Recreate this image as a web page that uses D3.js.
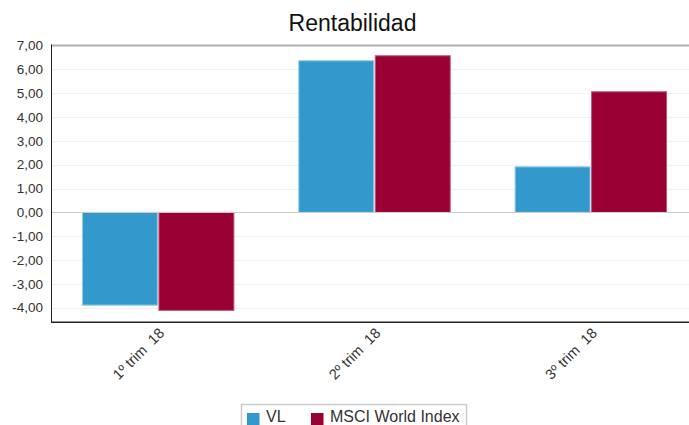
<!DOCTYPE html>
<html>
<head>
<meta charset="utf-8">
<script src="https://cdn.jsdelivr.net/npm/d3@7"></script>
<style>
  html, body { margin: 0; padding: 0; background: #fff; overflow: hidden; }
  text { font-family: "Liberation Sans", Arial, sans-serif; }
</style>
</head>
<body>
<svg id="chart" width="689" height="425"></svg>
<script>
const categories = ["1º trim  18", "2º trim  18", "3º trim  18"];
const seriesNames = ["VL", "MSCI World Index"];
const vlValues = [-3.89, 6.36, 1.91];
const msciValues = [-4.11, 6.57, 5.06];
const yTicks = [-4, -3, -2, -1, 0, 1, 2, 3, 4, 5, 6, 7];
const colors = ["#3399cc", "#990033"];
const strokes = ["#8fcbea", "#c2577b"];

const svg = d3.select("#chart");
const pLeft = 51, pRight = 699, pTop = 45.5, pBottom = 322.3;

const x0 = d3.scaleBand().domain(categories).range([50, pRight]).paddingInner(0.3).paddingOuter(0.15);
const x1 = d3.scaleBand().domain(seriesNames).range([0, x0.bandwidth()]).paddingInner(0.02);
const y = d3.scaleLinear().domain([-4.61, 7]).range([pBottom, pTop]);

// gridlines
svg.append("g").selectAll("line").data(yTicks.filter(d => d !== 0 && d !== 7)).join("line")
  .attr("x1", pLeft).attr("x2", 689)
  .attr("y1", d => Math.round(y(d)) + 0.5).attr("y2", d => Math.round(y(d)) + 0.5)
  .attr("stroke", "#f1f1f1").attr("stroke-width", 1);

// bars
const rows = categories.map((c, i) => ({ cat: c, vals: [vlValues[i], msciValues[i]] }));
const g = svg.append("g");
rows.forEach(r => {
  r.vals.forEach((v, j) => {
    g.append("rect")
      .attr("x", x0(r.cat) + x1(seriesNames[j]))
      .attr("width", x1.bandwidth())
      .attr("y", Math.min(y(v), y(0)))
      .attr("height", Math.abs(y(v) - y(0)))
      .attr("fill", colors[j])
      .attr("stroke", strokes[j])
      .attr("stroke-width", 1);
  });
});

// zero line
svg.append("line").attr("x1", pLeft).attr("x2", 689)
  .attr("y1", Math.round(y(0)) + 0.5).attr("y2", Math.round(y(0)) + 0.5)
  .attr("stroke", "#cccccc").attr("stroke-width", 1);

// top border
svg.append("line").attr("x1", pLeft).attr("x2", 689)
  .attr("y1", pTop).attr("y2", pTop)
  .attr("stroke", "#b0b0b0").attr("stroke-width", 2);

// left axis line
svg.append("line").attr("x1", pLeft + 0.5).attr("x2", pLeft + 0.5)
  .attr("y1", pTop - 1).attr("y2", pBottom)
  .attr("stroke", "#222").attr("stroke-width", 1);
// bottom axis line
svg.append("line").attr("x1", pLeft).attr("x2", 689)
  .attr("y1", pBottom).attr("y2", pBottom)
  .attr("stroke", "#222").attr("stroke-width", 1.5);

// y tick labels
const fmt = d => d.toFixed(2).replace(".", ",");
svg.append("g").selectAll("text").data(yTicks).join("text")
  .attr("x", 43).attr("y", d => y(d))
  .attr("dy", "0.35em")
  .attr("text-anchor", "end")
  .attr("font-size", 13.5)
  .attr("fill", "#333")
  .text(fmt);

// x labels
svg.append("g").selectAll("text").data(categories).join("text")
  .attr("transform", d => `translate(${x0(d) + x0.bandwidth() / 2 + 7},${334}) rotate(-45)`)
  .attr("text-anchor", "end")
  .attr("font-size", 14.5)
  .attr("fill", "#333")
  .style("white-space", "pre")
  .attr("xml:space", "preserve")
  .text(d => d);

// title
svg.append("text").attr("x", 352.5).attr("y", 31)
  .attr("text-anchor", "middle").attr("font-size", 23).attr("fill", "#111")
  .text("Rentabilidad");

// legend
const lg = svg.append("g");
lg.append("rect").attr("x", 241.5).attr("y", 404.5).attr("width", 225).attr("height", 30)
  .attr("fill", "#fff").attr("stroke", "#cccccc").attr("stroke-width", 1.5);
const legX = [247, 311];
seriesNames.forEach((s, j) => {
  lg.append("rect").attr("x", legX[j]).attr("y", 413).attr("width", 12.5).attr("height", 14)
    .attr("fill", colors[j]);
  lg.append("text").attr("x", legX[j] + 19).attr("y", 421.5)
    .attr("font-size", 16).attr("fill", "#333").text(s);
});
</script>
</body>
</html>
